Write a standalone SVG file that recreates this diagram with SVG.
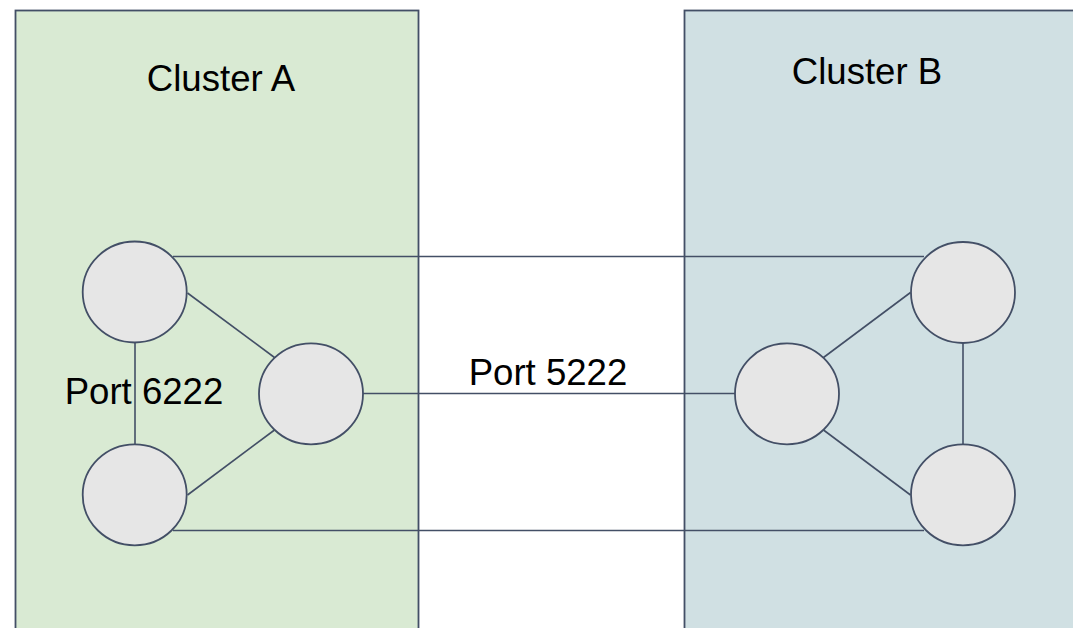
<svg xmlns="http://www.w3.org/2000/svg" width="1073" height="628" viewBox="0 0 1073 628">
<style>
.cl{stroke:#434f66;stroke-width:1.8}
.nd{fill:#e6e6e6;stroke:#434f66;stroke-width:1.8}
.ln{stroke:#434f66;stroke-width:1.6;fill:none}
.t{font-family:"Liberation Sans",Arial,sans-serif;font-size:36.6px;fill:#000;text-anchor:middle}
</style>
<rect width="1073" height="628" fill="#ffffff"/>
<g id="clusterA">
<rect class="cl" x="15.5" y="10.5" width="403" height="630" fill="#d9ead3"/>
<text class="t" x="221" y="90.5">Cluster A</text>
</g>
<g id="clusterB">
<rect class="cl" x="684.5" y="10.5" width="400" height="630" fill="#d0e0e3"/>
<text class="t" x="867" y="83.5">Cluster B</text>
</g>
<g id="connectors">
<line class="ln" x1="173" y1="256.5" x2="924" y2="256.5"/>
<line class="ln" x1="173" y1="530.5" x2="924" y2="530.5"/>
<line class="ln" x1="363" y1="393.5" x2="735" y2="393.5"/>
<line class="ln" x1="187.5" y1="293" x2="274.5" y2="357.5"/>
<line class="ln" x1="187.5" y1="495" x2="274.5" y2="430"/>
<line class="ln" x1="135" y1="342.5" x2="135" y2="444.5"/>
<line class="ln" x1="910.5" y1="292.5" x2="823.5" y2="357.5"/>
<line class="ln" x1="910.5" y1="495" x2="823.5" y2="430"/>
<line class="ln" x1="963" y1="343" x2="963" y2="444.5"/>
</g>
<g id="a1"><ellipse class="nd" cx="134.7" cy="292" rx="52" ry="50.5"/></g>
<g id="a2"><ellipse class="nd" cx="311" cy="393.8" rx="52" ry="50.5"/></g>
<g id="a3"><ellipse class="nd" cx="134.7" cy="494.8" rx="52" ry="50.5"/></g>
<g id="b1"><ellipse class="nd" cx="963" cy="292.5" rx="52" ry="50.5"/></g>
<g id="b2"><ellipse class="nd" cx="787" cy="393.8" rx="52" ry="50.5"/></g>
<g id="b3"><ellipse class="nd" cx="963" cy="494.8" rx="52" ry="50.5"/></g>
<text class="t" x="548" y="384.5">Port 5222</text>
<text class="t" x="144" y="403.5">Port 6222</text>
</svg>
